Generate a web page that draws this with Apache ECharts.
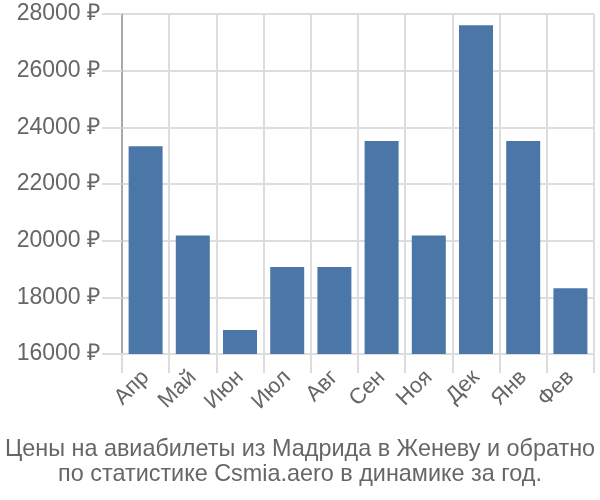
<!DOCTYPE html>
<html><head><meta charset="utf-8">
<script src="https://cdn.jsdelivr.net/npm/echarts@6/dist/echarts.min.js"></script>
<style>html,body{margin:0;padding:0;background:#fff}#c{width:600px;height:500px}</style>
</head><body><div id="c"></div>
<script>
var categories = ["Апр","Май","Июн","Июл","Авг","Сен","Ноя","Дек","Янв","Фев"];
var values = [23330, 20180, 16850, 19070, 19070, 23520, 20180, 27600, 23520, 18320];
var titleLines = ["Цены на авиабилеты из Мадрида в Женеву и обратно", "по статистике Csmia.aero в динамике за год."];
var yMin = 16000, yMax = 28000, yStep = 2000;

var chart = echarts.init(document.getElementById('c'));
chart.setOption({
  animation: false,
  textStyle: {fontFamily: 'Liberation Sans, Arial, sans-serif'},
  title: {
    text: titleLines.join('\n'),
    left: 'center', bottom: 8,
    textStyle: {color: '#666', fontSize: 23.4, fontWeight: 'normal', lineHeight: 25}
  },
  grid: {left: 122, right: 6, top: 14, bottom: 146},
  xAxis: {
    type: 'category', data: categories,
    axisLine: {lineStyle: {color: '#ddd', width: 2}},
    axisTick: {show: true, length: 19, lineStyle: {color: '#ddd', width: 2}},
    splitLine: {show: true, lineStyle: {color: '#ddd', width: 2}},
    axisLabel: {rotate: 45, color: '#666', fontSize: 22, margin: 20}
  },
  yAxis: {
    type: 'value', min: yMin, max: yMax, interval: yStep,
    axisLine: {show: true, lineStyle: {color: '#aaa', width: 2}},
    axisTick: {show: true, length: 20, lineStyle: {color: '#ddd', width: 2}},
    splitLine: {show: true, lineStyle: {color: '#ddd', width: 2}},
    axisLabel: {color: '#666', fontSize: 23, margin: 22, formatter: function(v){return v + ' ₽';}}
  },
  series: [{
    type: 'bar', data: values, barWidth: '72%',
    itemStyle: {color: '#4a77a8'}
  }]
});
</script></body></html>
